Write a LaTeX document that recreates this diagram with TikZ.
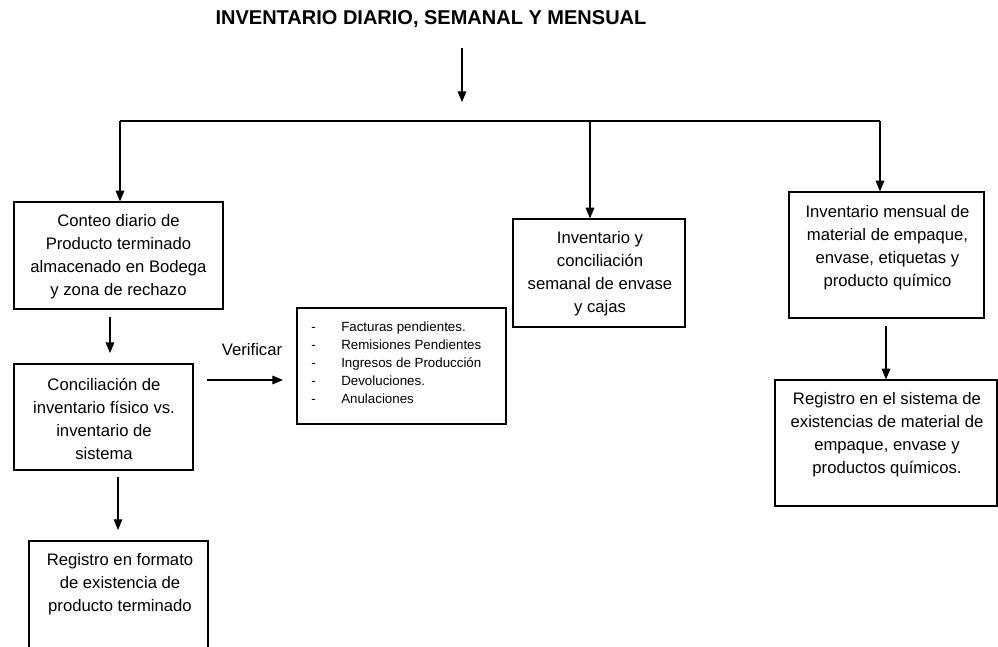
\documentclass[tikz,border=0pt]{standalone}
\usepackage{fontspec}
\setmainfont{Liberation Sans}
\usetikzlibrary{arrows.meta,fit}
\begin{document}
\begin{tikzpicture}[x=0.75pt,y=-0.75pt,
  box/.style={draw, line width=0.9pt, inner sep=0pt},
  txt/.style={align=center, font=\fontsize{12.5}{17.25}\selectfont, inner sep=0pt},
  arr/.style={line width=0.8pt, -{Triangle[length=8pt,width=6.5pt]}},
  ln/.style={line width=0.8pt}]
\useasboundingbox (0,0) rectangle (998,646);
\clip (0,0) rectangle (998,646);

% title
\node[inner sep=0pt, font=\fontsize{15}{18}\selectfont\bfseries] (title) at (431,19) {INVENTARIO DIARIO, SEMANAL Y MENSUAL};

% boxes
\node[box, fit={(14,202) (223,309)}] (b1) {};
\node[box, fit={(14,364) (193,470)}] (b2) {};
\node[box, fit={(29,541) (208,680)}] (b3) {};
\node[box, fit={(297,308) (506,424)}] (bl) {};
\node[box, fit={(513,219) (685,327)}] (bm) {};
\node[box, fit={(789,192) (984,318)}] (br1) {};
\node[box, fit={(775,380) (997,506)}] (br2) {};

% texts
\node[txt] (t1) at (118.5,257) {Conteo diario de\\Producto terminado\\almacenado en Bodega\\y zona de rechazo};
\node[txt] (t2) at (104,418.5) {Conciliación de\\inventario físico vs.\\inventario de\\sistema};
\node[txt] (t3) at (120,584) {Registro en formato\\de existencia de\\producto terminado};
\node[txt] (t4) at (600,274) {Inventario y\\conciliación\\semanal de envase\\y cajas};
\node[txt] (t5) at (887.5,248) {Inventario mensual de\\material de empaque,\\envase, etiquetas y\\producto químico};
\node[txt] (t6) at (887,435) {Registro en el sistema de\\existencias de material de\\empaque, envase y\\productos químicos.};
\node[txt] (verif) at (252,350) {Verificar};
\node[inner sep=0pt, anchor=north west, align=left, font=\fontsize{10}{13.5}\selectfont] (tl) at (311,321.5)
  {\hbox to 22.5pt{-\hfil}Facturas pendientes.\\
   \hbox to 22.5pt{-\hfil}Remisiones Pendientes\\
   \hbox to 22.5pt{-\hfil}Ingresos de Producción\\
   \hbox to 22.5pt{-\hfil}Devoluciones.\\
   \hbox to 22.5pt{-\hfil}Anulaciones};

% connector points
\coordinate (ta) at (462,48);
\coordinate (tb) at (462,102);
\coordinate (busL) at (120,121);
\coordinate (busM) at (590,121);
\coordinate (busR) at (880,121);
\coordinate (a1s) at (110,317);
\coordinate (a1e) at (110,353);
\coordinate (a2s) at (118,477);
\coordinate (a2e) at (118,530);
\coordinate (a3s) at (886,326);
\coordinate (vs) at (207,380);
\coordinate (ve) at (283,380);

% connectors
\draw[arr] (ta) -- (tb);
\draw[ln] (busL) -- (busR);
\draw[arr] (busL) -- (busL |- b1.north);
\draw[arr] (busM) -- (busM |- bm.north);
\draw[arr] (busR) -- (busR |- br1.north);
\draw[arr] (a1s) -- (a1e);
\draw[arr] (a2s) -- (a2e);
\draw[arr] (a3s) -- (a3s |- br2.north);
\draw[arr] (vs) -- (ve);
\end{tikzpicture}
\end{document}
